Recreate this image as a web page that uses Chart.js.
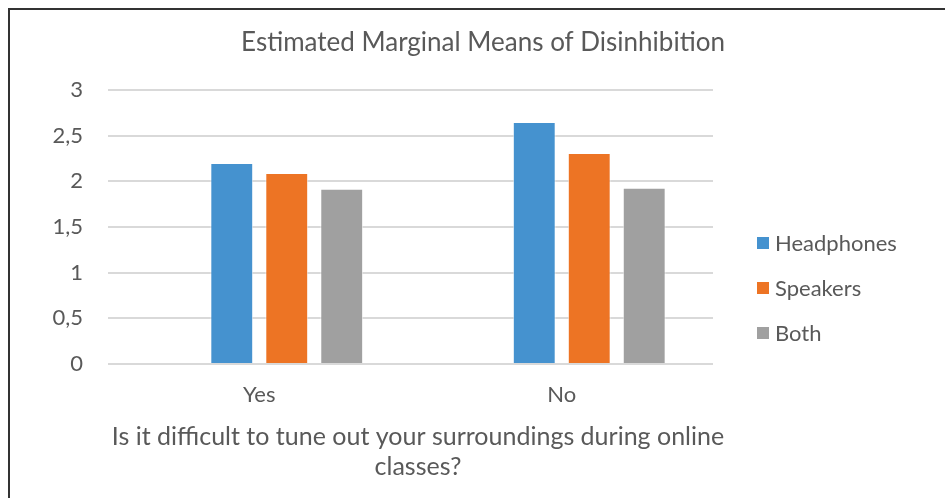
<!DOCTYPE html>
<html>
<head>
<meta charset="utf-8">
<script src="https://cdn.jsdelivr.net/npm/chart.js@4.4.1/dist/chart.umd.min.js"></script>
<style>
  html, body { margin: 0; padding: 0; background: #ffffff; }
  #wrap { position: relative; width: 945px; height: 498px; }
</style>
</head>
<body>
<div id="wrap"><canvas id="c" width="945" height="498"></canvas></div>
<script>
const chartTitle = 'Estimated Marginal Means of Disinhibition';
const categories = ['Yes', 'No'];
const seriesNames = ['Headphones', 'Speakers', 'Both'];
const headphones = [2.20, 2.65];
const speakers = [2.09, 2.31];
const both = [1.92, 1.93];
const yTicks = [0, 0.5, 1, 1.5, 2, 2.5, 3];
const xAxisTitle = ['Is it difficult to tune out your surroundings during online', 'classes?'];

const colors = ['#4592cf', '#ed7424', '#a0a0a0'];
const textColor = '#595959';
const fontFamily = 'Lato, "Open Sans", sans-serif';

const framePlugin = {
  id: 'frame',
  beforeDraw(chart) {
    const ctx = chart.ctx;
    ctx.save();
    ctx.fillStyle = '#ffffff';
    ctx.fillRect(0, 0, chart.width, chart.height);
    ctx.strokeStyle = '#333333';
    ctx.lineWidth = 2;
    ctx.beginPath();
    ctx.moveTo(9, chart.height);
    ctx.lineTo(9, 9);
    ctx.lineTo(chart.width, 9);
    ctx.stroke();
    ctx.restore();
  }
};

const titleLegendPlugin = {
  id: 'titleLegend',
  afterDraw(chart) {
    const ctx = chart.ctx;
    ctx.save();
    ctx.fillStyle = textColor;
    ctx.font = '26px ' + fontFamily;
    ctx.textAlign = 'center';
    ctx.textBaseline = 'middle';
    ctx.fillText(chartTitle, 483, 43);
    ctx.font = '25px ' + fontFamily;
    xAxisTitle.forEach((line, i) => ctx.fillText(line, 418, 437 + i * 30));
    ctx.font = '22px ' + fontFamily;
    ctx.textAlign = 'left';
    const real = chart.data.datasets.filter(d => d.label);
    real.forEach((ds, i) => {
      const y = 243 + i * 45;
      ctx.fillStyle = ds.backgroundColor;
      ctx.fillRect(757, y - 6, 12, 12);
      ctx.fillStyle = textColor;
      ctx.fillText(ds.label, 775, y + 1);
    });
    ctx.restore();
  }
};

const datasets = [
  { label: '', data: categories.map(() => null), backgroundColor: 'rgba(0,0,0,0)' },
  { label: seriesNames[0], data: headphones, backgroundColor: colors[0] },
  { label: seriesNames[1], data: speakers, backgroundColor: colors[1] },
  { label: seriesNames[2], data: both, backgroundColor: colors[2] }
].map(d => Object.assign(d, {
  categoryPercentage: 0.727,
  barPercentage: 0.78,
  borderWidth: 1,
  borderColor: 'rgba(255,255,255,0.6)'
}));

new Chart(document.getElementById('c'), {
  type: 'bar',
  data: { labels: categories, datasets },
  options: {
    responsive: false,
    animation: false,
    events: [],
    layout: { padding: { top: 90, right: 232, bottom: 0, left: 10 } },
    plugins: {
      legend: { display: false },
      title: { display: false },
      tooltip: { enabled: false }
    },
    scales: {
      x: {
        grid: { display: false, drawTicks: false },
        border: { display: false },
        ticks: { color: textColor, font: { family: fontFamily, size: 22 }, padding: 18 },
        title: { display: false },
        afterFit(s) { s.height = 134; }
      },
      y: {
        min: 0, max: 3,
        afterBuildTicks(s) { s.ticks = yTicks.map(v => ({ value: v })); },
        grid: { color: '#d9d9d9', lineWidth: 2, drawTicks: false },
        border: { display: false },
        ticks: {
          color: textColor,
          font: { family: fontFamily, size: 22 },
          padding: 25,
          callback: v => String(v).replace('.', ',')
        },
        afterFit(s) { s.width = 98; }
      }
    }
  },
  plugins: [framePlugin, titleLegendPlugin]
});
</script>
</body>
</html>
